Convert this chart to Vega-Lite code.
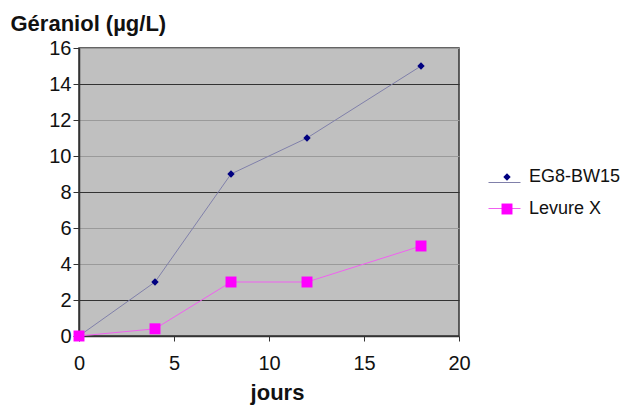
{
  "$schema": "https://vega.github.io/schema/vega-lite/v6.json",
  "width": 380,
  "height": 288,
  "autosize": "none",
  "padding": {"left": 79, "top": 48, "right": 169, "bottom": 70},
  "background": "white",
  "config": {
    "font": "Liberation Sans",
    "view": {"fill": "#c0c0c0", "stroke": "#333333", "strokeWidth": 1.5}
  },
  "data": {
    "values": [
      {"jours": 0, "val": 0, "serie": "EG8-BW15", "courbe": "EG8-BW15"},
      {"jours": 4, "val": 3, "serie": "EG8-BW15", "courbe": "EG8-BW15"},
      {"jours": 8, "val": 9, "serie": "EG8-BW15", "courbe": "EG8-BW15"},
      {"jours": 12, "val": 11, "serie": "EG8-BW15", "courbe": "EG8-BW15"},
      {"jours": 18, "val": 15, "serie": "EG8-BW15", "courbe": "EG8-BW15"},
      {"jours": 0, "val": 0, "serie": "Levure X", "courbe": "Levure X"},
      {"jours": 4, "val": 0.4, "serie": "Levure X", "courbe": "Levure X"},
      {"jours": 8, "val": 3, "serie": "Levure X", "courbe": "Levure X"},
      {"jours": 12, "val": 3, "serie": "Levure X", "courbe": "Levure X"},
      {"jours": 18, "val": 5, "serie": "Levure X", "courbe": "Levure X"}
    ]
  },
  "encoding": {
    "x": {
      "field": "jours", "type": "quantitative",
      "scale": {"domain": [0, 20], "nice": false, "zero": false},
      "axis": {
        "values": [0, 5, 10, 15, 20], "grid": false,
        "title": "jours", "titleFont": "Liberation Sans", "titleFontSize": 22, "titleFontWeight": "bold", "titleColor": "#111",
        "titleX": 198, "titleY": 63, "titleBaseline": "alphabetic",
        "labelFontSize": 20, "labelColor": "#111", "labelPadding": 12, "labelFlush": false,
        "tickSize": 5, "tickColor": "#333", "domainColor": "#333", "domainWidth": 1.5
      }
    },
    "y": {
      "field": "val", "type": "quantitative",
      "scale": {"domain": [0, 16], "nice": false},
      "axis": {
        "values": [0, 2, 4, 6, 8, 10, 12, 14, 16],
        "title": "Géraniol (µg/L)", "titleAngle": 0, "titleAlign": "left", "titleBaseline": "alphabetic",
        "titleX": -69, "titleY": -18, "titleFontSize": 22, "titleFontWeight": "bold", "titleColor": "#111",
        "labelFontSize": 20, "labelColor": "#111", "labelPadding": 2, "labelFlush": false,
        "tickSize": 6, "tickColor": "#333", "domainColor": "#333", "domainWidth": 1.5,
        "grid": true,
        "gridColor": {"condition": {"test": "datum.value == 2 || datum.value == 8 || datum.value == 14", "value": "#333333"}, "value": "#9a9a9a"},
        "gridWidth": 1.2
      }
    }
  },
  "layer": [
    {
      "mark": {"type": "line", "strokeWidth": 1},
      "encoding": {
        "stroke": {
          "field": "courbe", "type": "nominal",
          "scale": {"range": ["#8080aa", "#f060f0"]},
          "legend": {
            "title": null, "orient": "none", "legendX": 409, "legendY": 118,
            "symbolType": "stroke", "symbolSize": 1024, "symbolStrokeWidth": 1,
            "labelFontSize": 18, "labelExpr": "''", "rowPadding": 0, "labelOffset": 6
          }
        }
      }
    },
    {
      "mark": {"type": "point", "filled": true, "opacity": 1},
      "encoding": {
        "fill": {
          "field": "serie", "type": "nominal",
          "scale": {"range": ["#000080", "#ff00ff"]},
          "legend": {
            "title": null, "orient": "none", "legendX": 419, "legendY": 120,
            "labelFontSize": 18, "labelColor": "#111", "rowPadding": 14, "labelOffset": 13,
            "symbolStrokeWidth": 0
          }
        },
        "shape": {
          "field": "serie", "type": "nominal",
          "scale": {"range": ["diamond", "square"]}
        },
        "size": {
          "field": "serie", "type": "nominal",
          "scale": {"range": [55, 120]}
        }
      }
    }
  ]
}
